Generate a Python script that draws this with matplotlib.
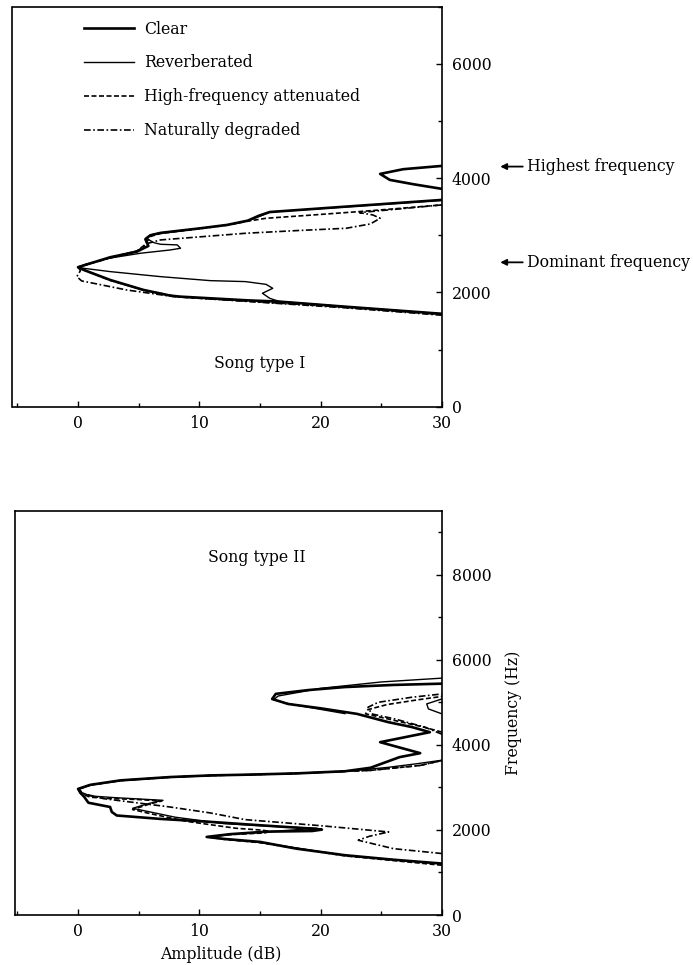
import numpy as np
import matplotlib
matplotlib.use("Agg")
import matplotlib.pyplot as plt
from matplotlib.ticker import MultipleLocator

nan = np.nan

# ---------------- data (amplitude in dB below peak, frequency in Hz) ----------------
series_labels = ["Clear", "Reverberated", "High-frequency attenuated", "Naturally degraded"]

# Song type I
top_clear_amp = [30, 22, 16.6, 14, 8.45, 7.6, 5.4, 2.65, 0.5, 0, 0.6, 2.65, 4.86, 5.3, 5.8, 5.55, 5.97, 6.8, 10.1, 12.3, 14.0, 14.9, 15.8, 22.1, 30,
                 nan, 30, 27.65, 25.7, 24.9, 26.8, 30]
top_clear_freq = [1625, 1750, 1838, 1860, 1925, 1943, 2042, 2217, 2390, 2440, 2480, 2614, 2713, 2760, 2812, 2929, 2999, 3040, 3121, 3180, 3255, 3340, 3405, 3500, 3617,
                  nan, 3810, 3891, 3967, 4072, 4154, 4212]

top_rev_amp = [30, 22, 16.6, 15.8, 15.2, 16.05, 15.5, 13.8, 10.9, 6.8, 2.65, 0.5, 0, 0.6, 2.65, 5.14, 7.62, 8.45, 8.18, 6.8, 6.24, 5.6, 5.97,
               6.8, 10.1, 12.3, 14.0, 15.1, 15.8, 22.1, 30]
top_rev_freq = [1625, 1750, 1840, 1896, 1984, 2071, 2140, 2188, 2205, 2275, 2363, 2420, 2440, 2490, 2600, 2684, 2742, 2771, 2830, 2841, 2870, 2950, 3005,
                3040, 3121, 3180, 3250, 3340, 3405, 3495, 3610]

top_hf_amp = [30, 22, 8.3, 5.4, 2.65, 0.5, 0, 0.6, 2.65, 4.86, 5.5, 6.0, 6.8, 10.1, 12.3, 14.0, 15.5, 19.4, 23.2, 26, 30]
top_hf_freq = [1610, 1740, 1920, 2040, 2210, 2390, 2440, 2480, 2610, 2725, 2830, 2980, 3030, 3115, 3175, 3245, 3296, 3354, 3413, 3460, 3530]

top_nd_amp = [30, 22, 7.9, 4.0, 1.27, 0.3, -0.1, 0.2, 0, 0.6, 2.65, 4.86, 5.8, 6.8, 10.0, 13.84, 18, 22.1, 24.1, 24.9, 24.3, 23.2, 26, 30]
top_nd_freq = [1600, 1730, 1925, 2042, 2159, 2200, 2275, 2380, 2440, 2480, 2600, 2720, 2860, 2917, 2970, 3034, 3080, 3121, 3197, 3296, 3354, 3395, 3450, 3530]

# Song type II
bot_clear_amp = [30, 26, 22, 18, 15, 12, 10.6, 12.5, 15.5, 19.3, 20.1, 19.3, 15, 10.9, 6.76, 3.19, 2.78, 2.64, 0.85, 0.5, 0.2, 0,
                 1, 3.5, 7.6, 11, 14, 18, 22, 24.1, 26.5, 28.2, 24.9, 29.0, 27.5, 25.6, 23, 20, 17.3, 16, 16.3, 19, 22, 26, 30]
bot_clear_freq = [1210, 1300, 1406, 1560, 1719, 1790, 1836, 1900, 1960, 1975, 2008, 2031, 2110, 2190, 2260, 2340, 2423, 2540, 2640, 2780, 2870, 2965,
                  3060, 3166, 3244, 3283, 3300, 3330, 3380, 3462, 3712, 3806, 4064, 4299, 4420, 4533, 4729, 4860, 4963, 5080, 5200, 5290, 5360, 5410, 5440]

bot_rev_amp = [30, 22, 15, 12, 10.8, 12.5, 15.5, 19.7, 17, 12, 8, 4.5, 5.8, 7.0, 3, 1, 0.3, 0.1,
               1, 3.5, 7.6, 11, 14, 18, 22, 25.5, 28, 30,
               nan, 30, 28.88, 28.74, 30,
               nan, 22, 17.5, 16.1, 16.5, 20, 25, 30]
bot_rev_freq = [1200, 1400, 1710, 1785, 1830, 1895, 1955, 2040, 2070, 2150, 2300, 2509, 2620, 2697, 2760, 2800, 2880, 2960,
                3055, 3160, 3240, 3280, 3298, 3328, 3378, 3470, 3560, 3640,
                nan, 4729, 4846, 4964, 5081,
                nan, 4735, 4960, 5060, 5150, 5330, 5480, 5570]

bot_hf_amp = [30, 22, 15, 12, 10.7, 12.5, 15.4, 15.8, 15.2, 13, 9, 6.0, 4.5, 6.0, 6.9, 5, 2.5, 1.0, 0.2, 0,
              1, 3.5, 7.6, 11, 14, 18, 22, 24.07, 28.2, 30,
              nan, 30, 28.5, 26, 23.7, 23.9, 25.5, 28, 30]
bot_hf_freq = [1170, 1390, 1700, 1780, 1836, 1890, 1930, 1965, 1995, 2040, 2200, 2380, 2480, 2620, 2680, 2715, 2740, 2770, 2860, 2960,
               3058, 3163, 3242, 3281, 3299, 3330, 3380, 3400, 3517, 3634,
               nan, 4300, 4418, 4580, 4731, 4830, 4950, 5060, 5140]

bot_nd_amp = [30, 26, 23.1, 24, 25.6, 20, 13.77, 10.9, 7.58, 2.1, 0.5, 0,
              1, 3.5, 7.6, 11, 14, 18, 22, 24.07, 28.2, 30,
              nan, 30, 28.6, 26.1, 24.2, 23.9, 24.75, 27.5, 30]
bot_nd_freq = [1445, 1560, 1758, 1850, 1953, 2100, 2243, 2400, 2540, 2736, 2850, 2960,
               3055, 3160, 3240, 3280, 3298, 3328, 3378, 3400, 3517, 3634,
               nan, 4250, 4416, 4611, 4729, 4885, 5002, 5120, 5198]

x_ticks = [0, 10, 20, 30]
top_y_ticks = [0, 2000, 4000, 6000]
bot_y_ticks = [0, 2000, 4000, 6000, 8000]
highest_freq = 4200
dominant_freq = 2525

# ---------------- styling ----------------
plt.rcParams['font.family'] = ['DejaVu Serif']
FS = 11.3
plt.rcParams['font.size'] = FS

styles = [
    dict(color='black', lw=1.9, ls='-'),
    dict(color='black', lw=1.0, ls='-'),
    dict(color='black', lw=1.2, ls=(0, (3, 1.5))),
    dict(color='black', lw=1.2, ls=(0, (4, 1.5, 1, 1.5))),
]

fig = plt.figure(figsize=(6.93, 9.65), dpi=100)
W, H = 693.0, 965.0

ax1 = fig.add_axes([12.5 / W, 1 - 406.7 / H, (442 - 12.5) / W, 400.2 / H])
ax2 = fig.add_axes([15 / W, 1 - 915 / H, (442 - 15) / W, 404 / H])


def style_axis(ax, xlo, ymax, yticks):
    ax.set_xlim(xlo, 30)
    ax.set_ylim(0, ymax)
    ax.set_xticks(x_ticks)
    ax.set_yticks(yticks)
    ax.xaxis.set_minor_locator(MultipleLocator(5))
    ax.yaxis.set_minor_locator(MultipleLocator(1000))
    ax.yaxis.tick_right()
    ax.tick_params(axis='both', which='major', direction='in', length=4, width=1.0, labelsize=FS)
    ax.tick_params(axis='both', which='minor', direction='in', length=3, width=1.0)
    ax.tick_params(axis='y', which='both', left=False, right=True, pad=7)
    ax.tick_params(axis='x', which='both', top=False, bottom=True, pad=6)
    for s in ax.spines.values():
        s.set_linewidth(1.2)


style_axis(ax1, -5.4, 7000, top_y_ticks)
style_axis(ax2, -5.2, 9500, bot_y_ticks)

top_data = [(top_clear_amp, top_clear_freq), (top_rev_amp, top_rev_freq),
            (top_hf_amp, top_hf_freq), (top_nd_amp, top_nd_freq)]
bot_data = [(bot_clear_amp, bot_clear_freq), (bot_rev_amp, bot_rev_freq),
            (bot_hf_amp, bot_hf_freq), (bot_nd_amp, bot_nd_freq)]

handles = []
for (a, f), st, lab in zip(top_data, styles, series_labels):
    h, = ax1.plot(a, f, label=lab, **st)
    handles.append(h)
for (a, f), st in zip(bot_data, styles):
    ax2.plot(a, f, **st)

leg = ax1.legend(handles=handles, loc='upper left', bbox_to_anchor=(0.1665, 0.965),
                 frameon=False, handlelength=3.2, handletextpad=0.65, labelspacing=1.08,
                 borderpad=0, borderaxespad=0, fontsize=FS)

ax1.text(15, 760, "Song type I", ha='center', va='center', fontsize=FS)
ax2.text(14.7, 8400, "Song type II", ha='center', va='center', fontsize=FS)

arrow_kw = dict(arrowstyle='-|>', color='black', lw=1.3, mutation_scale=9, shrinkA=1, shrinkB=0)
ax1.annotate("Highest frequency", xy=(34.8, highest_freq), xytext=(37.0, highest_freq),
             va='center', ha='left', fontsize=FS, arrowprops=arrow_kw, annotation_clip=False)
ax1.annotate("Dominant frequency", xy=(34.8, dominant_freq), xytext=(37.0, dominant_freq),
             va='center', ha='left', fontsize=FS, arrowprops=arrow_kw, annotation_clip=False)

ax2.yaxis.set_label_position('right')
ax2.set_ylabel("Frequency (Hz)", fontsize=FS, rotation=90, labelpad=10)
ax2.set_xlabel("Amplitude (dB)", fontsize=FS)
ax2.xaxis.set_label_coords((221 - 15) / 427, -0.077)

fig.savefig("out.png", dpi=100)
